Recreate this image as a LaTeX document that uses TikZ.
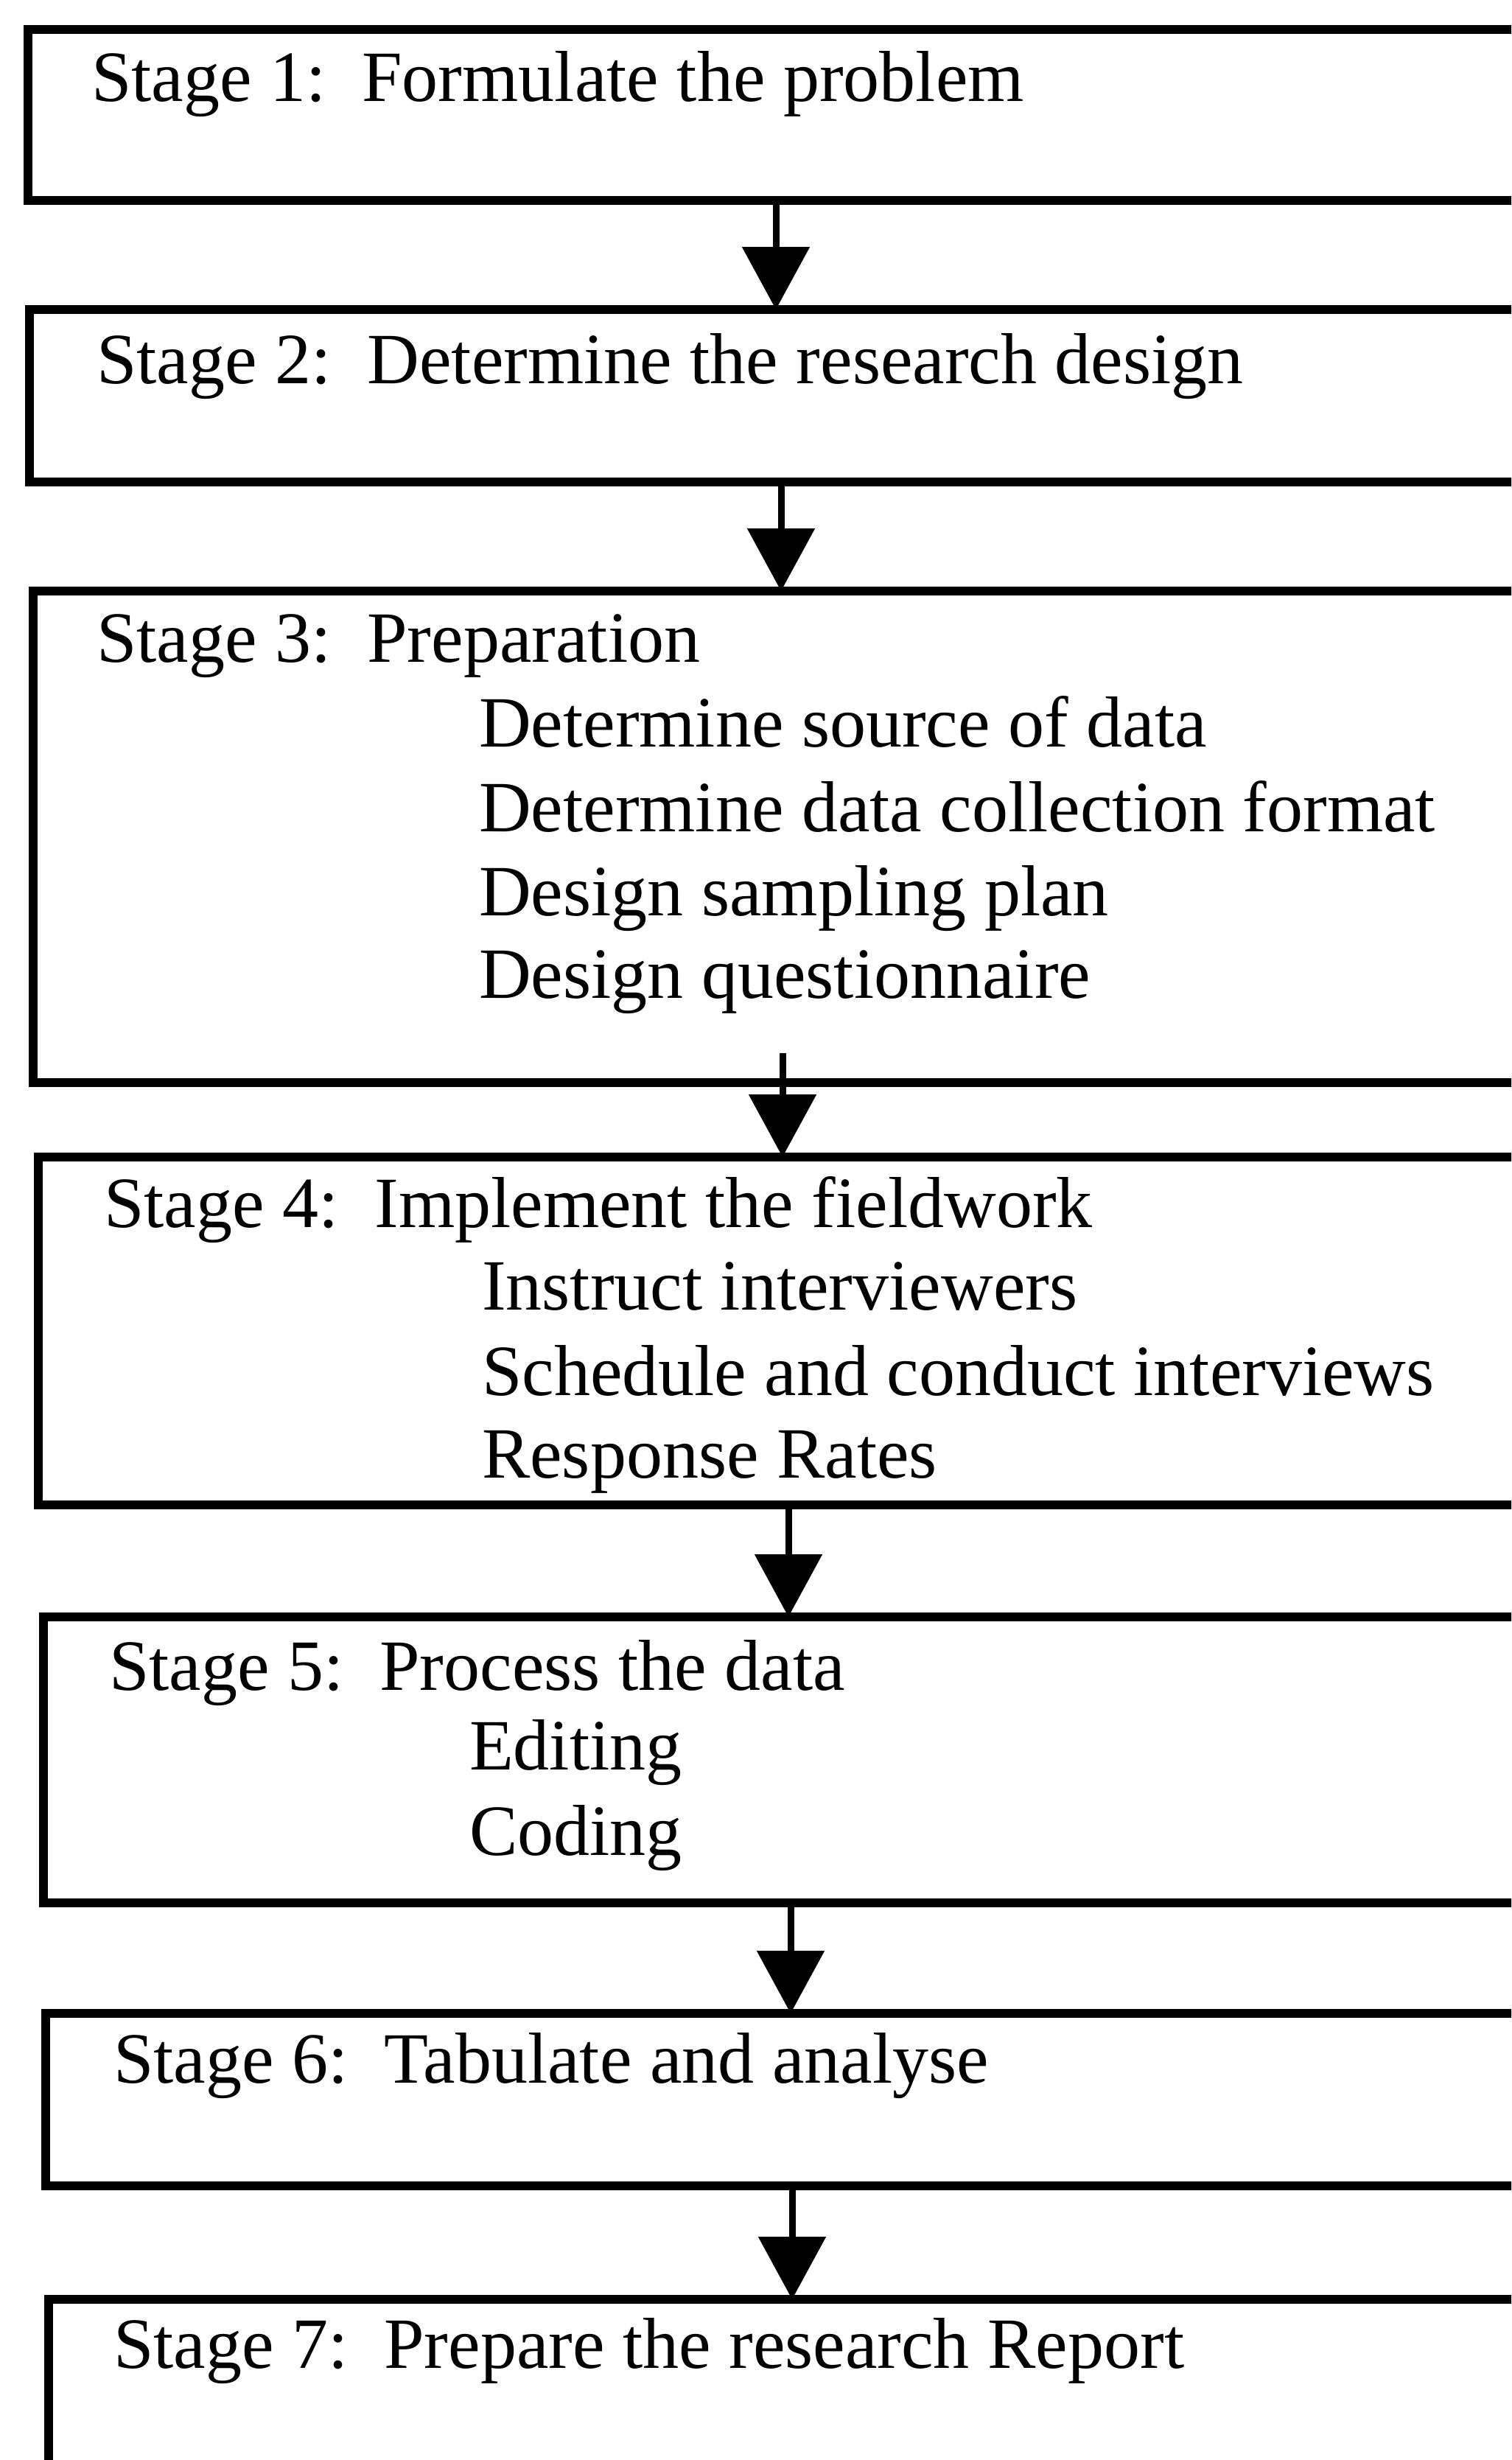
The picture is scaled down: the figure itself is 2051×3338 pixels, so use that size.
\documentclass[tikz,border=0pt]{standalone}
\usepackage{fontspec}
\setmainfont{Liberation Serif}
\usetikzlibrary{arrows.meta}

\begin{document}
\begin{tikzpicture}[x=1pt,y=-1pt,
  stagebox/.style={draw=black, line width=12pt, inner sep=0pt, outer sep=0pt, fill=none},
  label/.style={anchor=base west, inner sep=0pt, outer sep=0pt,
                font=\fontsize{98}{115}\selectfont},
  flow/.style={line width=9pt, -{Triangle[width=90pt,length=85pt]}}]

\useasboundingbox (0,0) rectangle (2051,3338);
\fill[white] (0,0) rectangle (2051,3338);
\clip (0,0) rectangle (2051,3338);

% stage frames (they run past the right and bottom edges)
\node[stagebox, minimum width=2030pt, minimum height=232pt] (s1) at (1053,156) {};
\node[stagebox, minimum width=2040pt, minimum height=234pt] (s2) at (1060,537) {};
\node[stagebox, minimum width=2034pt, minimum height=667pt] (s3) at (1062,1135.5) {};
\node[stagebox, minimum width=2036pt, minimum height=472pt] (s4) at (1070,1806) {};
\node[stagebox, minimum width=2028pt, minimum height=388pt] (s5) at (1073,2388) {};
\node[stagebox, minimum width=2026pt, minimum height=234pt] (s6) at (1075,2849) {};
\node[stagebox, minimum width=2022pt, minimum height=330pt] (s7) at (1077,3285) {};

% stage titles
\node[label] (t1) at (124,137)  {Stage 1:\ \ Formulate the problem};
\node[label] (t2) at (131,520)  {Stage 2:\ \ Determine the research design};
\node[label] (t3) at (131,898)  {Stage 3:\ \ Preparation};
\node[label] (t4) at (141,1665) {Stage 4:\ \ Implement the fieldwork};
\node[label] (t5) at (148,2293) {Stage 5:\ \ Process the data};
\node[label] (t6) at (154,2826) {Stage 6:\ \ Tabulate and analyse};
\node[label] (t7) at (154,3213) {Stage 7:\ \ Prepare the research Report};

% sub-steps
\node[label] (t3a) at (650,1013) {Determine source of data};
\node[label] (t3b) at (650,1128) {Determine data collection format};
\node[label] (t3c) at (650,1242) {Design sampling plan};
\node[label] (t3d) at (650,1354) {Design questionnaire};

\node[label] (t4a) at (654,1777) {Instruct interviewers};
\node[label] (t4b) at (654,1893) {Schedule and conduct interviews};
\node[label] (t4c) at (654,2005) {Response Rates};

\node[label] (t5a) at (637,2401) {Editing};
\node[label] (t5b) at (637,2517) {Coding};

% connectors
\draw[flow] (s1.south) -- (s1.south |- s2.north);
\draw[flow] (s2.south) -- (s2.south |- s3.north);
\draw[flow] ([yshift=40pt]s3.south) -- (s3.south |- s4.north);
\draw[flow] (s4.south) -- (s4.south |- s5.north);
\draw[flow] (s5.south) -- (s5.south |- s6.north);
\draw[flow] (s6.south) -- (s6.south |- s7.north);

\end{tikzpicture}
\end{document}
